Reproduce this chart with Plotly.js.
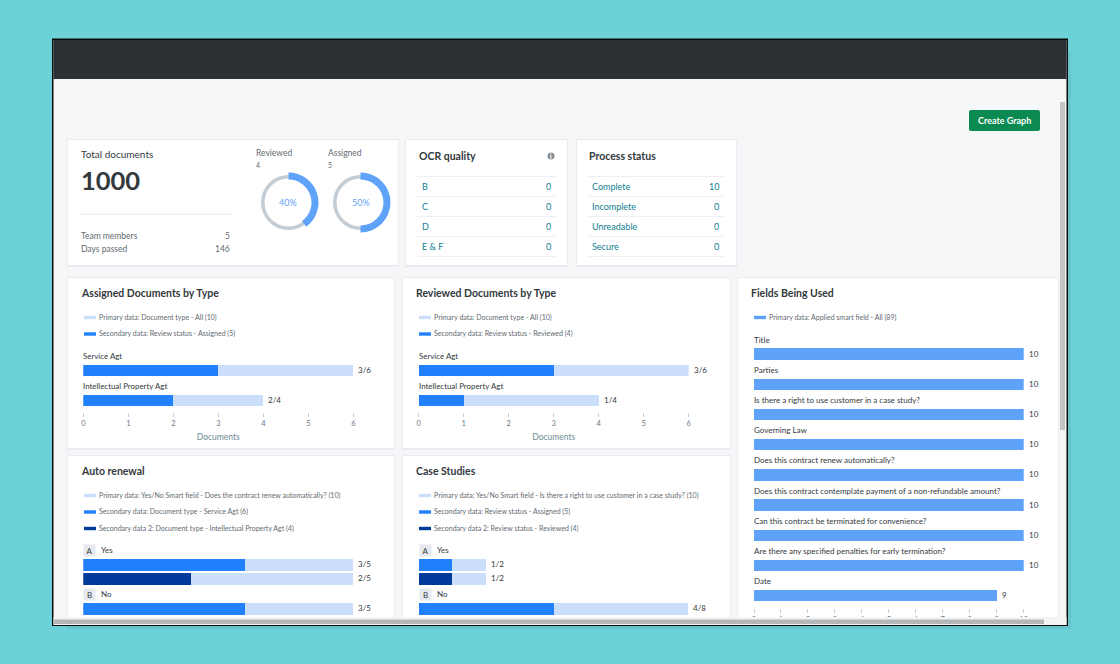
<!DOCTYPE html>
<html><head><meta charset="utf-8">
<script src="https://cdn.plot.ly/plotly-3.0.1.min.js"></script>
<style>html,body{margin:0;padding:0;background:#6dd1d8;overflow:hidden}#c{width:1120px;height:664px}</style>
</head><body><div id="c"></div>
<script>
// ---- data ----
const docTypes = ['Service Agt', 'Intellectual Property Agt'];
const allByType = [6, 4];
const assignedByType = [3, 2];
const reviewedByType = [3, 1];

const yesNo = ['Yes', 'No'];
const yesNoBadges = ['A', 'B'];
const renewalAll1 = [5, 5];
const renewalService = [3, 3];
const renewalAll2 = [5, null];
const renewalIP = [2, null];
const caseAll1 = [2, 8];
const caseAssigned = [1, 4];
const caseAll2 = [2, null];
const caseReviewed = [1, null];

const fieldNames = ['Title', 'Parties', 'Is there a right to use customer in a case study?', 'Governing Law',
  'Does this contract renew automatically?', 'Does this contract contemplate payment of a non-refundable amount?',
  'Can this contract be terminated for convenience?', 'Are there any specified penalties for early termination?', 'Date'];
const fieldCounts = [10, 10, 10, 10, 10, 10, 10, 10, 9];

const reviewedPct = [40, 60];
const assignedPct = [50, 50];
const ocrLabels = ['B', 'C', 'D', 'E & F'];
const ocrValues = [0, 0, 0, 0];
const processLabels = ['Complete', 'Incomplete', 'Unreadable', 'Secure'];
const processValues = [10, 0, 0, 0];

// ---- style ----
const FONT = 'Lato, "Noto Sans", sans-serif';
const LIGHT = '#cbdffc', MID = '#2180fb', DARK = '#003a9b', FIELD = '#5fa2fa';
const INK = '#33393d', GREY = '#5f6a72', TEAL = '#0e8090', TICK = '#6b7680';
const W = 1120, H = 664;
const fx = p => p / W, fy = p => 1 - p / H;

const shapes = [], annotations = [], traces = [];
function rect(x0, y0, x1, y1, fill, line, layer) {
  shapes.push({type: 'rect', xref: 'paper', yref: 'paper', x0: fx(x0), x1: fx(x1), y0: fy(y0), y1: fy(y1),
    fillcolor: fill, line: {color: line || fill, width: line ? 1 : 0}, layer: layer || 'below'});
}
function hline(x0, x1, y, color) {
  shapes.push({type: 'line', xref: 'paper', yref: 'paper', x0: fx(x0), x1: fx(x1), y0: fy(y), y1: fy(y),
    line: {color: color, width: 1}, layer: 'below'});
}
function text(t, x, y, size, color, anchor, bold) {
  const a = anchor || 'left';
  annotations.push({xref: 'paper', yref: 'paper', x: fx(a === 'left' ? x - 1.3 : x), y: fy(y - 0.25), text: bold ? '<b>' + t + '</b>' : t, showarrow: false,
    xanchor: a, yanchor: 'middle', borderpad: 0, font: {family: FONT, size: size, color: color}});
}
function card(x0, y0, x1, y1) {
  rect(x0 - 1, y0 - 1, x1 + 1, y1 + 2, '#e9ebee');
  rect(x0, y0, x1, y1, '#ffffff');
}
function legendRow(x, y, color, label) {
  rect(x, y - 1.7, x + 12, y + 1.7, color);
  text(label, x + 15.5, y, 7, GREY);
}
function barTrace(axis, cats, vals, color, width, offset) {
  const t = {type: 'bar', orientation: 'h', x: vals, y: cats, xaxis: 'x' + axis, yaxis: 'y' + axis,
    marker: {color: color, line: {width: 0}}, width: width, hoverinfo: 'skip', showlegend: false};
  if (offset !== undefined) t.offset = offset;
  traces.push(t);
}
function dataNote(axis, x, y, t, xshift, yshift, size, color, extra) {
  annotations.push(Object.assign({xref: 'x' + axis, yref: 'y' + axis, x: x, y: y, text: t, showarrow: false,
    xanchor: 'left', yanchor: 'middle', xshift: xshift, yshift: yshift, borderpad: 0,
    font: {family: FONT, size: size, color: color}}, extra || {}));
}

// ---- window chrome ----
rect(66, 52, 1071, 629, '#66c4cb');
rect(52, 38.5, 1068, 626, '#0c0c0c');
rect(53.5, 40, 1066.5, 625, '#f5f6f8');
rect(53.5, 40, 1066.5, 79, '#2b3133');

// create-graph button
shapes.push({type: 'path', xref: 'paper', yref: 'paper', layer: 'below', fillcolor: '#0a8a50', line: {width: 0},
  path: `M${fx(971)},${fy(110)} L${fx(1038)},${fy(110)} Q${fx(1040)},${fy(110)} ${fx(1040)},${fy(112)} L${fx(1040)},${fy(129)} Q${fx(1040)},${fy(131)} ${fx(1038)},${fy(131)} L${fx(971)},${fy(131)} Q${fx(969)},${fy(131)} ${fx(969)},${fy(129)} L${fx(969)},${fy(112)} Q${fx(969)},${fy(110)} ${fx(971)},${fy(110)} Z`});
text('Create Graph', 1004.5, 120.5, 9, '#ffffff', 'center', true);

// cards
card(68, 140, 398, 265); card(406, 140, 567, 265); card(577, 140, 736, 265);
card(68, 278, 394, 448); card(403, 278, 730, 448); card(738, 278, 1058, 620);
card(68, 456, 394, 620); card(403, 456, 730, 620);

// total documents
text('Total documents', 81, 154, 10, INK);
text('1000', 81, 180.5, 25.5, INK, 'left', true);
hline(81, 231, 214, '#e3e5e8');
text('Team members', 81, 236, 8.5, GREY);
text('5', 230.5, 236, 8.5, GREY, 'right');
text('Days passed', 81, 249, 8.5, GREY);
text('146', 230.5, 249, 8.5, GREY, 'right');

// donuts
function donut(cx, cy, pct, title, count) {
  traces.push({type: 'pie', values: [100], sort: false, hole: 24 / 27.5, textinfo: 'none', hoverinfo: 'skip', showlegend: false,
    marker: {colors: ['#c3ccd4'], line: {width: 0}},
    domain: {x: [fx(cx - 27.5), fx(cx + 27.5)], y: [fy(cy + 27.5), fy(cy - 27.5)]}});
  traces.push({type: 'pie', values: pct, sort: false, direction: 'clockwise', rotation: 0, hole: 23 / 30, textinfo: 'none', hoverinfo: 'skip', showlegend: false,
    marker: {colors: [FIELD, 'rgba(0,0,0,0)'], line: {width: 0}},
    domain: {x: [fx(cx - 30), fx(cx + 30)], y: [fy(cy + 30), fy(cy - 30)]}});
  text(pct[0] + '%', cx, cy, 9, FIELD, 'center');
  text(title, cx - 32.5, 153, 8.5, GREY);
  text(String(count), cx - 32.5, 165, 7, GREY);
}
donut(288.5, 202.5, reviewedPct, 'Reviewed', 4);
donut(360.5, 202.5, assignedPct, 'Assigned', 5);

// list cards
function listCard(x0, x1, title, labels, values) {
  text(title, x0, 156, 10.5, INK, 'left', true);
  [176.5, 196.5, 216.5, 236.5, 256.5].forEach(y => hline(x0 - 1, x1, y, '#edf0f2'));
  labels.forEach((l, i) => {
    text(l, x0 + 3, 186.5 + 20 * i, 9, TEAL);
    text(String(values[i]), x1 - 3.5, 186.5 + 20 * i, 9, TEAL, 'right');
  });
}
listCard(419, 555.5, 'OCR quality', ocrLabels, ocrValues);
listCard(589, 723.5, 'Process status', processLabels, processValues);
shapes.push({type: 'circle', xref: 'paper', yref: 'paper', layer: 'below', fillcolor: '#8a9095', line: {width: 0},
  x0: fx(547.5), x1: fx(554.5), y0: fy(159.5), y1: fy(152.5)});
text('i', 551, 156.5, 6.5, '#ffffff', 'center', true);

// chart titles and legends
text('Assigned Documents by Type', 81, 293.5, 10.5, INK, 'left', true);
legendRow(84, 317.5, LIGHT, 'Primary data: Document type - All (10)');
legendRow(84, 334, MID, 'Secondary data: Review status - Assigned (5)');

text('Reviewed Documents by Type', 416, 293.5, 10.5, INK, 'left', true);
legendRow(419, 317.5, LIGHT, 'Primary data: Document type - All (10)');
legendRow(419, 334, MID, 'Secondary data: Review status - Reviewed (4)');

text('Fields Being Used', 751, 293.5, 10.5, INK, 'left', true);
legendRow(754, 317.5, FIELD, 'Primary data: Applied smart field - All (89)');

text('Auto renewal', 81, 471.5, 10.5, INK, 'left', true);
legendRow(84, 495.5, LIGHT, 'Primary data: Yes/No Smart field - Does the contract renew automatically? (10)');
legendRow(84, 512, MID, 'Secondary data: Document type - Service Agt (6)');
legendRow(84, 528.5, DARK, 'Secondary data 2: Document type - Intellectual Property Agt (4)');

text('Case Studies', 416, 471.5, 10.5, INK, 'left', true);
legendRow(419, 495.5, LIGHT, 'Primary data: Yes/No Smart field - Is there a right to use customer in a case study? (10)');
legendRow(419, 512, MID, 'Secondary data: Review status - Assigned (5)');
legendRow(419, 528.5, DARK, 'Secondary data 2: Review status - Reviewed (4)');

// ---- document-type charts ----
function typeChart(axis, primary, secondary) {
  barTrace(axis, docTypes, primary, LIGHT, 0.38);
  barTrace(axis, docTypes, secondary, MID, 0.38);
  docTypes.forEach((c, i) => {
    dataNote(axis, 0, c, c, -1, 14.5, 7.9, INK);
    dataNote(axis, primary[i], c, secondary[i] + '/' + primary[i], 4, 0.5, 8, INK);
  });
}
typeChart('', allByType, assignedByType);
typeChart('2', allByType, reviewedByType);

// ---- fields chart ----
barTrace('3', fieldNames, fieldCounts, FIELD, 0.377);
fieldNames.forEach((c, i) => {
  dataNote('3', 0, c, c, -1, 14.5, 8, INK);
  dataNote('3', fieldCounts[i], c, String(fieldCounts[i]), 4, 0.5, 8, INK);
});

// ---- yes/no charts ----
const UP = -0.287, LOW = 0.029, BAR = 0.262;
function yesNoChart(axis, all1, sec1, all2, sec2) {
  barTrace(axis, yesNo, all1, LIGHT, BAR, UP);
  barTrace(axis, yesNo, sec1, MID, BAR, UP);
  barTrace(axis, yesNo, all2, LIGHT, BAR, LOW);
  barTrace(axis, yesNo, sec2, DARK, BAR, LOW);
  yesNo.forEach((c, i) => {
    dataNote(axis, 0, c, yesNoBadges[i], 0, 21, 8, INK, {width: 11, height: 11, align: 'center', bgcolor: '#e6eaee'});
    dataNote(axis, 0, c, c, 17, 21.5, 8, INK);
    dataNote(axis, all1[i], c, sec1[i] + '/' + all1[i], 4, 7.5, 8, INK);
    if (all2[i] !== null) dataNote(axis, all2[i], c, sec2[i] + '/' + all2[i], 4, -6.5, 8, INK);
  });
}
yesNoChart('4', renewalAll1, renewalService, renewalAll2, renewalIP);
yesNoChart('5', caseAll1, caseAssigned, caseAll2, caseReviewed);

// ---- axes ----
function xAxis(x0, x1, maxV, anchor, title, visible) {
  const a = {domain: [fx(x0), fx(x1)], range: [0, maxV], anchor: anchor, dtick: 1, tick0: 0, tickmode: 'linear',
    showgrid: false, zeroline: false, showline: false, ticks: 'outside', ticklen: 4, tickwidth: 1, tickcolor: '#c8ced3',
    tickfont: {family: FONT, size: 7.5, color: TICK}, fixedrange: true, visible: visible !== false};
  if (title) a.title = {text: title, standoff: 7, font: {family: FONT, size: 8.5, color: '#6e8a96'}};
  return a;
}
function yAxis(y0, y1, r0, r1, anchor, cats) {
  return {domain: [fy(y1), fy(y0)], range: [r1, r0], anchor: anchor, type: 'category', categoryorder: 'array', categoryarray: cats,
    visible: false, fixedrange: true};
}
const layout = {
  width: W, height: H, margin: {l: 0, r: 0, t: 0, b: 0, pad: 0}, autosize: false,
  paper_bgcolor: '#6dd1d8', plot_bgcolor: 'rgba(0,0,0,0)', showlegend: false, barmode: 'overlay', bargap: 0,
  font: {family: FONT}, hovermode: false, shapes: shapes, annotations: annotations,
  xaxis: xAxis(83.3, 353.3, 6, 'y', 'Documents'),
  yaxis: yAxis(355.2, 412, -0.5, 1.38, 'x', docTypes),
  xaxis2: xAxis(418.7, 688.7, 6, 'y2', 'Documents'),
  yaxis2: yAxis(355.2, 412, -0.5, 1.38, 'x2', docTypes),
  xaxis3: xAxis(754, 1023.7, 10, 'y3'),
  yaxis3: yAxis(338.9, 608, -0.5, 8.404, 'x3', fieldNames),
  xaxis4: xAxis(83.3, 353.3, 5, 'y4', null, false),
  yaxis4: yAxis(550, 620, -0.49, 1.094, 'x4', yesNo),
  xaxis5: xAxis(418.7, 688.3, 8, 'y5', null, false),
  yaxis5: yAxis(550, 620, -0.49, 1.094, 'x5', yesNo)
};

// ---- overlay: window edge clips the scrolled content ----
rect(53.5, 617, 1066.5, 625, '#f3f4f5', null, 'above');
rect(53.5, 619.5, 1044, 624, '#b4b6b8', null, 'above');
rect(1060, 102, 1065, 430, '#c2c4c6', null, 'above');

Plotly.newPlot('c', traces, layout, {displayModeBar: false, staticPlot: true});
</script></body></html>
